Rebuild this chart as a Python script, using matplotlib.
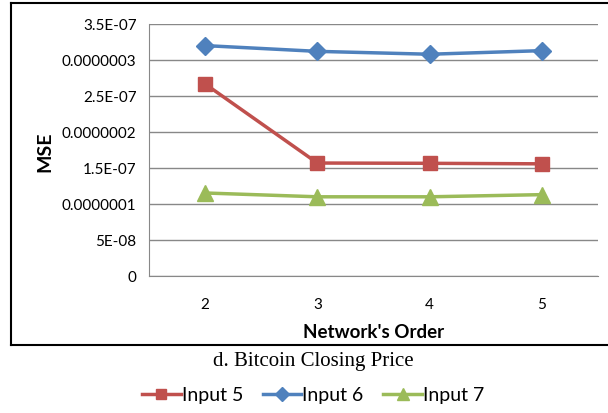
import matplotlib
matplotlib.use("Agg")
import matplotlib.pyplot as plt
from matplotlib.lines import Line2D

orders = ["2", "3", "4", "5"]
input5 = [2.667e-7, 1.569e-7, 1.565e-7, 1.558e-7]
input6 = [3.20e-7, 3.12e-7, 3.08e-7, 3.13e-7]
input7 = [1.153e-7, 1.10e-7, 1.10e-7, 1.13e-7]
yticks = [0, 5e-8, 1e-7, 1.5e-7, 2e-7, 2.5e-7, 3e-7, 3.5e-7]
ytick_labels = ["0", "5E-08", "0.0000001", "1.5E-07", "0.0000002", "2.5E-07", "0.0000003", "3.5E-07"]

W, H = 608, 414
fig = plt.figure(figsize=(W / 100, H / 100), dpi=100)
ax = fig.add_axes([149 / W, 1 - 277 / H, (598 - 149) / W, (277 - 25) / H])

red = "#C0504D"
blue = "#4F81BD"
green = "#9BBB59"
x = list(range(len(orders)))
ax.plot(x, input5, color=red, lw=2.5, marker="s", ms=10, label="Input 5", zorder=3)
ax.plot(x, input6, color=blue, lw=2.5, marker="D", ms=9, label="Input 6", zorder=3)
ax.plot(x, input7, color=green, lw=2.5, marker="^", ms=11, label="Input 7", zorder=3)

ax.set_xlim(-0.5, len(orders) - 0.5)
ax.set_ylim(0, 3.5e-7)
ax.set_yticks(yticks)
ax.set_yticklabels(ytick_labels)
ax.set_xticks(x)
ax.set_xticklabels(orders)
ax.grid(axis="y", color="#888888", lw=1)
ax.set_axisbelow(True)
for s in ["top", "right"]:
    ax.spines[s].set_visible(False)
ax.spines["left"].set_color("#888888")
ax.spines["bottom"].set_color("#888888")
ax.tick_params(length=0, labelsize=11, colors="#000000", pad=9)
for lab in ax.get_yticklabels() + ax.get_xticklabels():
    lab.set_family("Lato")
ax.tick_params(axis="x", pad=15)

fig.text(45 / W, 1 - 152 / H, "MSE", rotation=90, ha="center", va="center",
         fontsize=14, fontweight="bold", family="Lato")
fig.text(374 / W, 1 - 333 / H, "Network's Order", ha="center", va="center",
         fontsize=13.5, fontweight="bold", family="Lato")
fig.text(313 / W, 1 - 362 / H, "d. Bitcoin Closing Price", ha="center", va="center",
         fontsize=15, family="Liberation Serif")

# outer frame lines
fig.add_artist(Line2D([10.5 / W, 10.5 / W], [1 - 3.5 / H, 1 - 345.5 / H], color="black", lw=1.5))
fig.add_artist(Line2D([10.5 / W, 1], [1 - 3.5 / H, 1 - 3.5 / H], color="black", lw=1.5))
fig.add_artist(Line2D([10.5 / W, 1], [1 - 345.5 / H, 1 - 345.5 / H], color="black", lw=1.5))

leg = fig.legend(loc="center", bbox_to_anchor=(313 / W, 1 - 396 / H), ncol=3, frameon=False,
                 prop={"family": "Lato", "size": 14}, handlelength=2.0, columnspacing=1.0,
                 handletextpad=0.05, markerscale=0.75)

fig.savefig("out.png", dpi=100)
